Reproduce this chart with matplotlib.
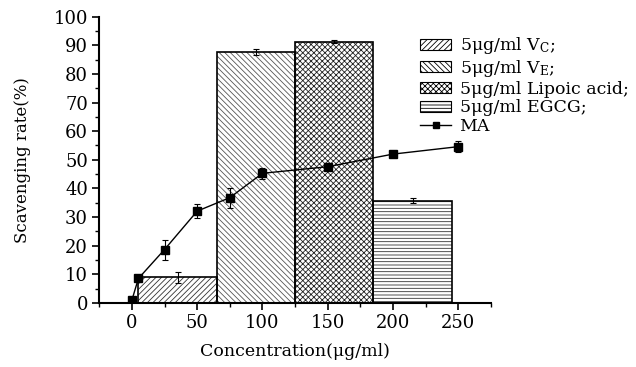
import matplotlib
matplotlib.use("Agg")
import matplotlib.pyplot as plt
from matplotlib.patches import Patch
from matplotlib.lines import Line2D
from matplotlib.ticker import MultipleLocator

plt.rcParams["font.family"] = ["DejaVu Serif"]
plt.rcParams["mathtext.fontset"] = "dejavuserif"
plt.rcParams["hatch.linewidth"] = 0.6

# ---------- data ----------
conc = [0, 5, 25, 50, 75, 100, 150, 200, 250]
ma_rate = [1.0, 8.6, 18.7, 32.1, 36.8, 45.3, 47.6, 52.0, 54.6]
ma_err = [0.5, 0.8, 3.5, 2.5, 3.5, 2.0, 1.0, 0.8, 1.8]

ref_names = ["5μg/ml V$_{\\mathrm{C}}$;", "5μg/ml V$_{\\mathrm{E}}$;",
             "5μg/ml Lipoic acid;", "5μg/ml EGCG;"]
ref_pos = [35, 95, 155, 215]
ref_rate = [9.0, 87.7, 91.2, 35.8]
ref_err = [2.0, 1.0, 0.5, 1.0]
BAR_W = 60

hatches = ["//////", "\\\\\\\\\\\\", "xxxxxx", "-----"]
hatch_cols = ["#333333", "#555555", "#222222", "#333333"]

fig = plt.figure(figsize=(6.36, 3.67), dpi=100)
ax = fig.add_axes([0.156, 0.174, 0.616, 0.781])

for x, h, e, hat, hc in zip(ref_pos, ref_rate, ref_err, hatches, hatch_cols):
    ax.bar(x, h, width=BAR_W, color="white", edgecolor=hc, hatch=hat,
           linewidth=0, zorder=1)
    ax.bar(x, h, width=BAR_W, color="none", edgecolor="black",
           linewidth=1.2, zorder=2)
    ax.errorbar(x, h, yerr=e, fmt="none", ecolor="black", elinewidth=0.8,
                capsize=2.5, capthick=0.8, zorder=3)

ax.errorbar(conc, ma_rate, yerr=ma_err, fmt="-s", color="black", lw=1.0,
            ms=6, elinewidth=0.8, capsize=2.5, capthick=0.8, zorder=4)

ax.set_xlim(-25, 275)
ax.set_ylim(0, 100)
ax.xaxis.set_major_locator(MultipleLocator(50))
ax.xaxis.set_minor_locator(MultipleLocator(25))
ax.yaxis.set_major_locator(MultipleLocator(10))
ax.yaxis.set_minor_locator(MultipleLocator(5))
ax.spines["top"].set_visible(False)
ax.spines["right"].set_visible(False)
ax.spines["left"].set_linewidth(1.5)
ax.spines["bottom"].set_linewidth(1.5)
ax.tick_params(which="major", direction="out", length=5, width=1.2,
               labelsize=13, pad=3)
ax.tick_params(which="minor", direction="out", length=3, width=1.0)

ax.set_xlabel("Concentration(μg/ml)", fontsize=12.5, labelpad=8)
ax.set_ylabel("Scavenging rate(%)", fontsize=12, labelpad=16)

handles = [Patch(facecolor="white", edgecolor="black", hatch=h, linewidth=0.8)
           for h in hatches]
handles.append(Line2D([], [], color="black", marker="s", ms=5, lw=1.0))
labels = ref_names + ["MA"]
ax.legend(handles, labels, loc="upper left", bbox_to_anchor=(0.82, 0.935),
          frameon=False, fontsize=12.5, borderaxespad=0, borderpad=0,
          handlelength=1.75, handleheight=0.6, handletextpad=0.5,
          labelspacing=0.1)

fig.savefig("out.png", dpi=100, facecolor="white")
